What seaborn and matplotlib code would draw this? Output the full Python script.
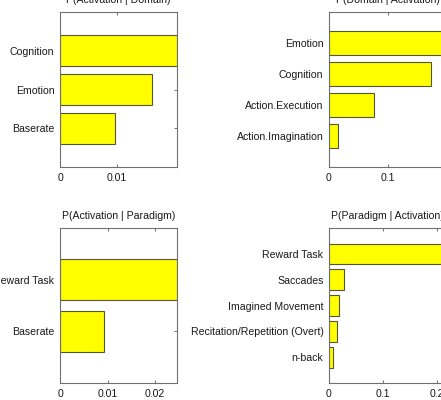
import matplotlib
matplotlib.use("Agg")
import matplotlib.pyplot as plt
import seaborn as sns
import pandas as pd

# P(Activation | Domain)
act_domain_labels = ["Cognition", "Emotion", "Baserate"]
act_domain_values = [0.0205, 0.0161, 0.0096]
act_domain_ticks = [0, 0.01]

# P(Domain | Activation)
dom_act_labels = ["Emotion", "Cognition", "Action.Execution", "Action.Imagination"]
dom_act_values = [0.198, 0.173, 0.076, 0.015]
dom_act_ticks = [0, 0.1]

# P(Activation | Paradigm)
act_par_labels = ["Reward Task", "Baserate"]
act_par_values = [0.0246, 0.0093]
act_par_ticks = [0, 0.01, 0.02]

# P(Paradigm | Activation)
par_act_labels = ["Reward Task", "Saccades", "Imagined Movement",
                  "Recitation/Repetition (Overt)", "n-back"]
par_act_values = [0.217, 0.028, 0.019, 0.014, 0.007]
par_act_ticks = [0, 0.1, 0.2]

sns.set_style("white")
plt.rcParams["font.family"] = ["Liberation Sans", "DejaVu Sans"]

W, H = 441, 400
fig = plt.figure(figsize=(W / 100, H / 100), dpi=100)

SPINE = "#6f6f6f"
TEXT = "#1a1a1a"
FS = 7.6


def px_axes(left, top, right, bottom):
    return fig.add_axes([left / W, 1 - bottom / H, (right - left) / W, (bottom - top) / H])


def panel(ax, labels, values, ticks, title):
    df = pd.DataFrame({"label": labels, "value": values})
    sns.barplot(data=df, x="value", y="label", orient="h", ax=ax,
                color="#ffff00", saturation=1, width=0.8,
                edgecolor="#55553a", linewidth=0.8)
    n = len(labels)
    ax.set_ylim(n, -1)
    ax.set_xlim(0, max(values))
    ax.set_xticks(ticks)
    ax.set_xticklabels(["0" if t == 0 else f"{t:g}" for t in ticks])
    ax.set_xlabel("")
    ax.set_ylabel("")
    ax.set_axisbelow(True)
    ax.tick_params(direction="in", top=True, right=True, left=True, bottom=True,
                   length=2.5, width=0.7, color=SPINE, labelsize=FS,
                   labelcolor=TEXT, pad=4)
    for s in ax.spines.values():
        s.set_visible(True)
        s.set_color(SPINE)
        s.set_linewidth(0.8)
    ax.set_title(title, fontsize=FS, color=TEXT, pad=6.5)


panel(px_axes(60, 12, 177, 167), act_domain_labels, act_domain_values,
      act_domain_ticks, "P(Activation | Domain)")
panel(px_axes(329, 12, 446, 167), dom_act_labels, dom_act_values,
      dom_act_ticks, "P(Domain | Activation)")
panel(px_axes(60, 228, 177, 383), act_par_labels, act_par_values,
      act_par_ticks, "P(Activation | Paradigm)")
panel(px_axes(329, 228, 446, 383), par_act_labels, par_act_values,
      par_act_ticks, "P(Paradigm | Activation)")

fig.savefig("out.png", dpi=100)
